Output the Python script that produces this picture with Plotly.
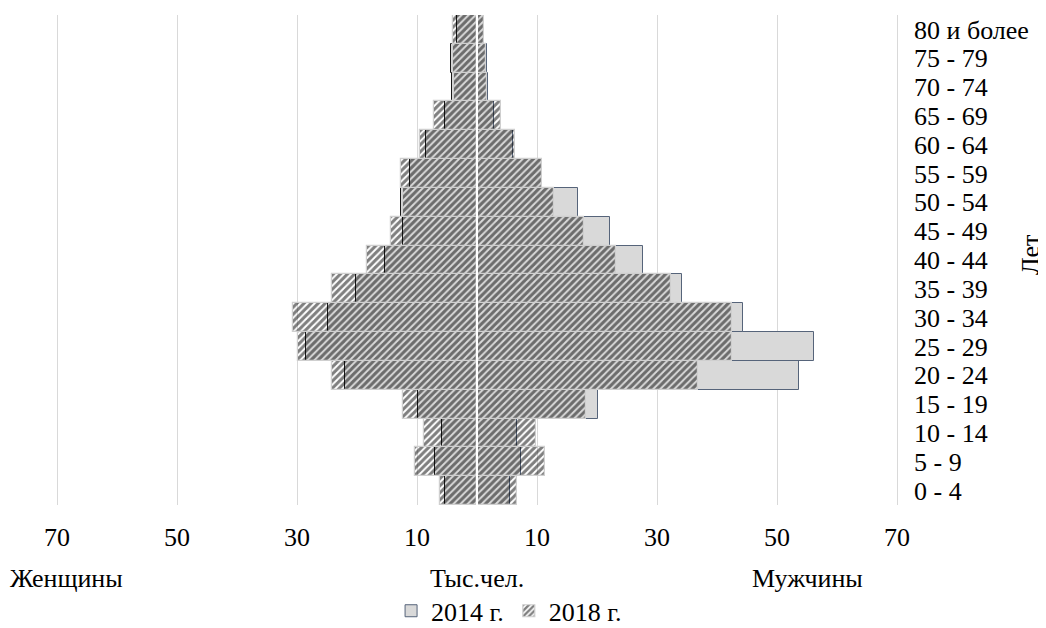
import plotly.graph_objects as go

ages = ["0 - 4", "5 - 9", "10 - 14", "15 - 19", "20 - 24", "25 - 29", "30 - 34",
        "35 - 39", "40 - 44", "45 - 49", "50 - 54", "55 - 59", "60 - 64",
        "65 - 69", "70 - 74", "75 - 79", "80 и более"]

men_2014 = [5.5, 7.4, 6.6, 20.1, 53.6, 56.2, 44.4, 34.1, 27.6, 22.2, 16.8, 10.8, 6.0, 2.9, 1.8, 1.6, 1.1]
men_2018 = [6.6, 11.4, 9.8, 18.1, 36.9, 42.5, 42.5, 32.3, 23.1, 17.9, 12.9, 10.8, 6.3, 4.0, 1.7, 1.5, 1.1]
women_2014 = [5.3, 7.0, 5.9, 9.8, 22.0, 28.5, 24.9, 20.2, 15.3, 12.3, 12.6, 11.2, 8.5, 5.4, 4.1, 4.4, 3.4]
women_2018 = [6.2, 10.4, 8.8, 12.3, 24.2, 29.8, 30.6, 24.2, 18.4, 14.3, 12.4, 12.6, 9.5, 7.1, 3.9, 4.0, 4.0]

tick_vals = [-70, -50, -30, -10, 10, 30, 50, 70]
tick_text = ["70", "50", "30", "10", "10", "30", "50", "70"]

FONT = "Liberation Serif, Times New Roman, serif"
FS = 26

fig = go.Figure()

style_2014_m = dict(color="#d9d9d9", line=dict(color="#56647a", width=1))
style_2014_w = dict(color="#d9d9d9", line=dict(color="#1a1a1a", width=1))
style_2018 = dict(color="rgba(0,0,0,0)",
                  line=dict(color="#cfcfcf", width=1.2),
                  pattern=dict(shape="/", fgcolor="#000000", size=5, solidity=0.6))

fig.add_trace(go.Bar(y=ages, x=[-v for v in women_2014], orientation="h",
                     name="2014 г.", legendgroup="2014", showlegend=False,
                     marker=style_2014_w))
fig.add_trace(go.Bar(y=ages, x=men_2014, orientation="h",
                     name="2014 г.", legendgroup="2014", showlegend=True,
                     marker=style_2014_m))
fig.add_trace(go.Bar(y=ages, x=[-v for v in women_2018], orientation="h",
                     name="2018 г.", legendgroup="2018", showlegend=False,
                     marker=style_2018))
fig.add_trace(go.Bar(y=ages, x=men_2018, orientation="h",
                     name="2018 г.", legendgroup="2018", showlegend=True,
                     marker=style_2018))

# white centre line at zero
fig.add_shape(type="line", xref="x", yref="paper", x0=0, x1=0, y0=0, y1=1,
              line=dict(color="white", width=2), layer="above")

fig.update_layout(
    width=1038, height=620,
    barmode="overlay", bargap=0,
    plot_bgcolor="white", paper_bgcolor="white",
    margin=dict(l=47, r=147, t=7, b=123, autoexpand=False),
    font=dict(family=FONT, size=FS, color="black"),
    legend=dict(orientation="h", x=0.538, xanchor="center", y=-0.216, yanchor="middle",
                font=dict(size=FS), itemwidth=30, tracegroupgap=0),
    xaxis=dict(range=[-70.333, 70.333], tickvals=tick_vals, ticktext=tick_text,
               showgrid=True, gridcolor="#d9d9d9", gridwidth=1,
               zeroline=False, showline=False, ticks="", automargin=False,
               ticklabelstandoff=14, tickfont=dict(size=FS)),
    yaxis=dict(side="right", showgrid=False, zeroline=False, showline=False,
               tickmode="array", tickvals=ages, ticktext=ages, automargin=False,
               ticks="", ticklabelstandoff=14, tickfont=dict(size=FS)),
    annotations=[
        dict(text="Женщины", xref="paper", yref="paper", x=-0.0557, y=-0.149,
             xanchor="left", yanchor="middle", showarrow=False, font=dict(size=FS)),
        dict(text="Тыс.чел.", xref="paper", yref="paper", x=0.5, y=-0.149,
             xanchor="center", yanchor="middle", showarrow=False, font=dict(size=FS)),
        dict(text="Мужчины", xref="paper", yref="paper", x=0.892, y=-0.149,
             xanchor="center", yanchor="middle", showarrow=False, font=dict(size=FS)),
        dict(text="Лет", xref="paper", yref="paper", x=1.155, y=0.51,
             xanchor="center", yanchor="middle", textangle=-90,
             showarrow=False, font=dict(size=FS)),
    ],
)

fig.write_html("out.html")
